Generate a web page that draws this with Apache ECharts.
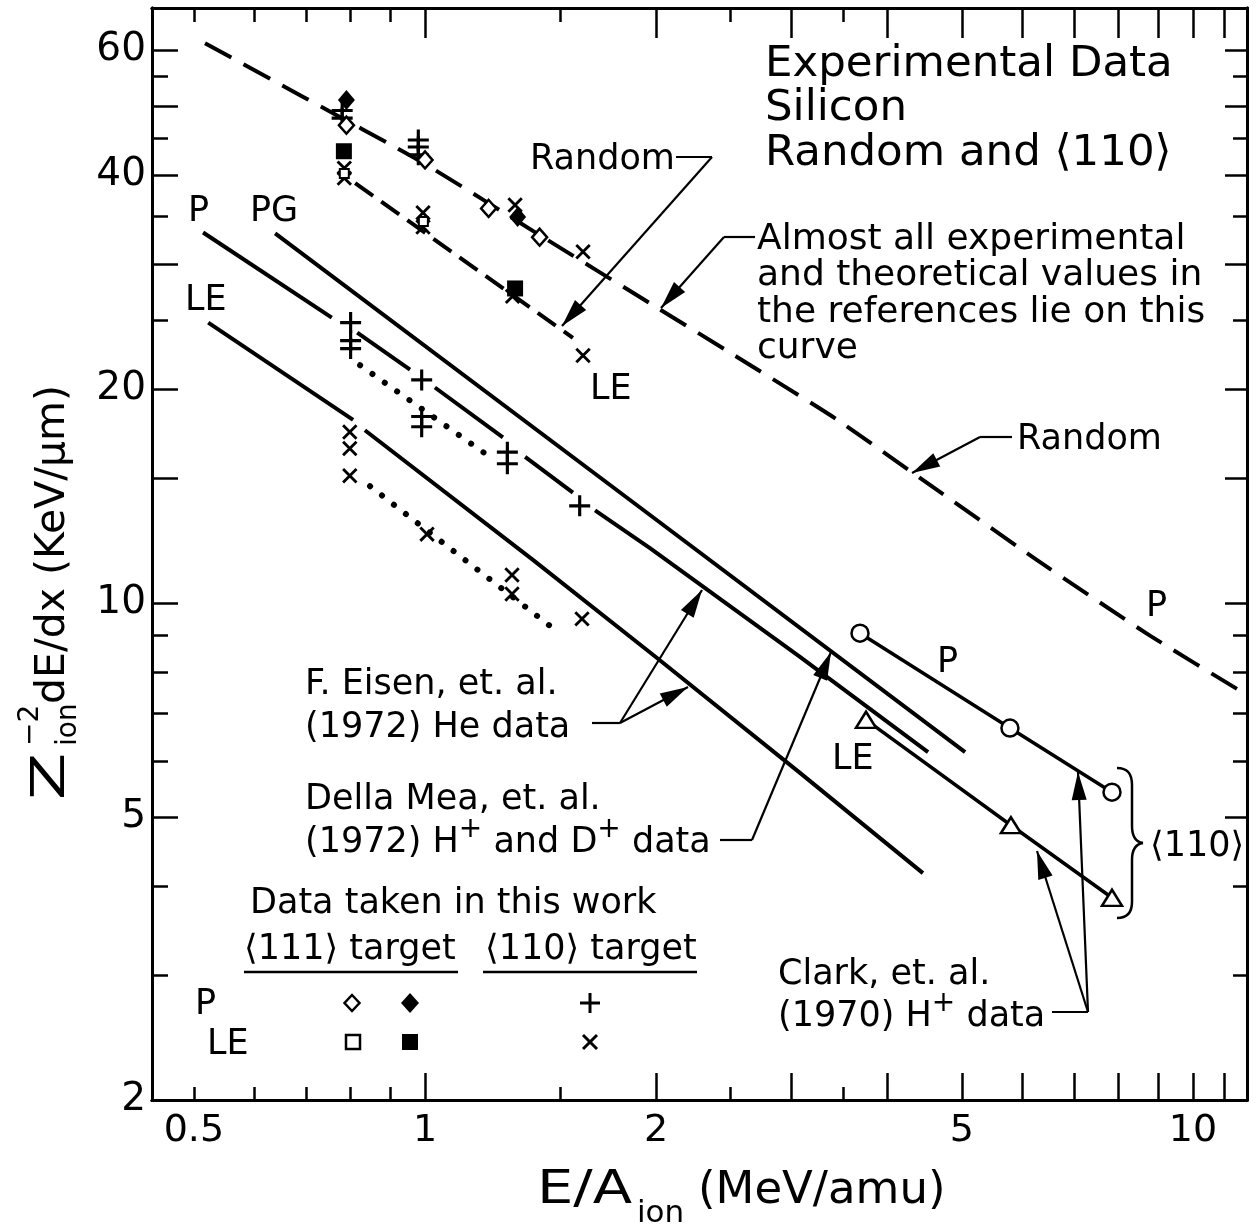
<!DOCTYPE html>
<html>
<head>
<meta charset="utf-8">
<title>Experimental Data Silicon Random and 110</title>
<script src="https://cdn.jsdelivr.net/npm/echarts@6/dist/echarts.min.js"></script>
<style>
html,body{margin:0;padding:0;background:#fff;}
#chart{width:1258px;height:1227px;}
</style>
</head>
<body>
<div id="chart"></div>
<script>
// ---------------- axis ticks / labels ----------------
const xLabelValues = [0.5, 1, 2, 5, 10];
const xMajorTickValues = [1, 2, 3, 4, 5, 6, 7, 8, 9, 10, 11];
const xMinorTickValues = [0.5, 0.6, 0.7, 0.8, 0.9, 1.5, 2.5, 3.5];
const yLabelValues = [2, 5, 10, 20, 40, 60];
const yMajorTickValues = [2, 5, 10, 15, 20, 30, 40, 50, 60];
const yMinorTickValues = [3, 4, 6, 7, 8, 9, 25, 35, 45, 55];

// ---------------- curves: E/A (MeV/amu) and Z^-2 dE/dx (keV/um) ----------------
const randomP_E = [0.517, 0.694, 0.994, 1.412, 1.963, 2.564, 3.43, 4.41, 6.26, 8.79, 11.7];
const randomP_S = [61.3, 51.5, 41.6, 32.9, 26.4, 22.1, 18.15, 15.0, 11.5, 9.0, 7.45];
const randomLE_E = [0.811, 1.558];
const randomLE_S = [38.96, 23.6];

const eisenP_segments = [
  [[0.514, 33.2], [0.756, 25.2]],
  [[0.816, 24.0], [0.956, 21.3]],
  [[1.030, 20.1], [1.263, 17.1]],
  [[1.35, 16.05], [1.558, 14.3]],
  [[1.665, 13.5], [1.963, 11.95], [3.078, 8.40], [4.519, 6.17]]
];
const eisenPG_E = [0.638, 1.963, 5.05];
const eisenPG_S = [33.1, 13.3, 6.17];
const eisenLE_segments = [
  [[0.522, 24.8], [0.806, 18.1]],
  [[0.835, 17.5], [1.382, 11.5], [2.005, 8.37], [3.078, 5.77], [4.45, 4.17]]
];
const clarkP_E = [3.685, 5.777, 7.845];
const clarkP_S = [9.07, 6.67, 5.42];
const clarkLE_E = [3.752, 5.794, 7.845];
const clarkLE_S = [6.85, 4.87, 3.85];
const dotP_E = [0.823, 1.215];
const dotP_S = [21.6, 16.05];
const dotLE_E = [0.848, 1.49];
const dotLE_S = [14.6, 9.1];

// ---------------- data points (this work) ----------------
const openDiamond_E = [0.79, 1.0, 1.21, 1.41];
const openDiamond_S = [47.0, 42.0, 35.9, 32.7];
const filledDiamond_E = [0.79, 1.32];
const filledDiamond_S = [51.0, 34.9];
const filledSquare_E = [0.784, 1.31];
const filledSquare_S = [43.2, 27.7];
const openSquare_E = [0.785, 0.995];
const openSquare_S = [40.2, 34.4];
const plus_E = [0.78, 0.78, 0.98, 0.98, 0.98, 0.80, 0.80, 0.80, 0.99, 0.99, 0.99, 1.28, 1.28, 1.59];
const plus_S = [49.3, 48.1, 44.8, 43.8, 42.7, 24.8, 23.4, 22.8, 20.6, 18.3, 17.7, 16.3, 15.7, 13.7];
const cross_E = [0.785, 0.785, 0.994, 0.994, 1.31, 1.30, 1.606, 1.606, 0.798, 0.798, 0.798, 1.006, 1.298, 1.298, 1.601];
const cross_S = [40.9, 39.6, 35.4, 33.8, 36.3, 27.0, 31.2, 22.3, 17.4, 16.5, 15.1, 12.5, 10.95, 10.3, 9.5];

// ---------------- helpers ----------------
const FONT = 'DejaVu Sans';
const X_MIN = 0.441, X_MAX = 11.76, Y_MIN = 2, Y_MAX = 68.7;
const zip = (a, b) => a.map((v, i) => [v, b[i]]);
const mctx = document.createElement('canvas').getContext('2d');
function tw(t, s) { mctx.font = s + 'px "' + FONT + '"'; return mctx.measureText(t).width; }
function T(t, x, base, s, extra) {
  return Object.assign({
    type: 'text', x: x, y: base - 0.3 * s, silent: true, z: 50,
    style: { text: t, font: s + 'px "' + FONT + '"', fill: '#000', align: 'left', verticalAlign: 'middle', textAlign: 'left', textVerticalAlign: 'middle' }
  }, extra || {});
}
function seq(x, base, parts) {
  const out = []; let cx = x;
  parts.forEach(p => { out.push(T(p[0], cx + (p[3] || 0), base + (p[2] || 0), p[1])); cx += tw(p[0], p[1]) + (p[3] || 0); });
  return out;
}
function L(pts, w) { return { type: 'polyline', silent: true, z: 50, shape: { points: pts }, style: { stroke: '#000', lineWidth: w || 2, fill: null } }; }
function B(x1, y1, c1x, c1y, c2x, c2y, x2, y2, w) {
  return { type: 'bezierCurve', silent: true, z: 50, shape: { x1: x1, y1: y1, cpx1: c1x, cpy1: c1y, cpx2: c2x, cpy2: c2y, x2: x2, y2: y2 }, style: { stroke: '#000', lineWidth: w || 2.5, fill: null } };
}
function arrowHead(x1, y1, x2, y2, len, w) {
  len = len || 28; w = w || 7.5;
  const dx = x2 - x1, dy = y2 - y1, d = Math.hypot(dx, dy), ux = dx / d, uy = dy / d;
  const bx = x2 - ux * len, by = y2 - uy * len;
  return { type: 'polygon', silent: true, z: 50, shape: { points: [[x2, y2], [bx - uy * w, by + ux * w], [bx + uy * w, by - ux * w]] }, style: { fill: '#000' } };
}
function arrowLine(x1, y1, x2, y2) { return [L([[x1, y1], [x2, y2]], 2.2), arrowHead(x1, y1, x2, y2)]; }

function mkX(position, ticks, len, labels) {
  return {
    type: 'log', logBase: 10, position: position, min: X_MIN, max: X_MAX, gridIndex: 0, silent: true,
    axisLine: { show: true, onZero: false, lineStyle: { color: '#000', width: 3 } },
    axisTick: { show: true, inside: true, length: len, customValues: ticks, lineStyle: { color: '#000', width: 2.5 } },
    axisLabel: labels ? { show: true, customValues: labels, margin: 12, color: '#000', fontFamily: FONT, fontSize: 38,
      formatter: v => String(Math.round(v * 10) / 10) } : { show: false },
    splitLine: { show: false }, minorTick: { show: false }, minorSplitLine: { show: false }
  };
}
function mkY(position, ticks, len, labels) {
  return {
    type: 'log', logBase: 10, position: position, min: Y_MIN, max: Y_MAX, gridIndex: 0, silent: true,
    axisLine: { show: true, onZero: false, lineStyle: { color: '#000', width: 3 } },
    axisTick: { show: true, inside: true, length: len, customValues: ticks, lineStyle: { color: '#000', width: 2.5 } },
    axisLabel: labels ? { show: true, customValues: labels, margin: 6, color: '#000', fontFamily: FONT, fontSize: 39,
      formatter: v => String(Math.round(v)) } : { show: false },
    splitLine: { show: false }, minorTick: { show: false }, minorSplitLine: { show: false }
  };
}

const BLACK_LINE = { color: '#000', width: 4 };
function lineSeries(data, lineStyle, extra) {
  return Object.assign({
    type: 'line', xAxisIndex: 0, yAxisIndex: 0, data: data, symbol: 'none', showSymbol: false, silent: true,
    lineStyle: Object.assign({}, BLACK_LINE, lineStyle || {}), z: 2, connectNulls: false
  }, extra || {});
}
function scat(data, symbol, size, itemStyle, extra) {
  return Object.assign({
    type: 'scatter', xAxisIndex: 0, yAxisIndex: 0, data: data, symbol: symbol, symbolSize: size, silent: true,
    itemStyle: Object.assign({ opacity: 1 }, itemStyle), z: 6
  }, extra || {});
}
const OPEN = { color: '#fff', borderColor: '#000', borderWidth: 2.5, opacity: 1 };
const FILLED = { color: '#000', opacity: 1 };
const PLUS_PATH = 'path://M8.5,0H11.5V20H8.5ZM0,8.5H20V11.5H0Z';

const series = [];
series.push(lineSeries(zip(randomP_E, randomP_S), { type: [30, 14], width: 4 }, { smooth: 0.2 }));
series.push(lineSeries(zip(randomLE_E, randomLE_S), { type: [22, 10], width: 4 }));
eisenP_segments.forEach(s => series.push(lineSeries(s)));
series.push(lineSeries(zip(eisenPG_E, eisenPG_S)));
eisenLE_segments.forEach(s => series.push(lineSeries(s)));
series.push(lineSeries(zip(dotP_E, dotP_S), { type: [0.1, 15], width: 6, cap: 'round' }));
series.push(lineSeries(zip(dotLE_E, dotLE_S), { type: [0.1, 15], width: 6, cap: 'round' }));
series.push(lineSeries(zip(clarkP_E, clarkP_S), { width: 3.5 }, { symbol: 'circle', symbolSize: 17, showSymbol: true, itemStyle: OPEN, z: 4 }));
series.push(lineSeries(zip(clarkLE_E, clarkLE_S), { width: 3.5 }, { symbol: 'triangle', symbolSize: [20, 16], showSymbol: true, itemStyle: OPEN, z: 4 }));
series.push(scat(zip(cross_E, cross_S), PLUS_PATH, 19, FILLED, { symbolRotate: 45 }));
series.push(scat(zip(plus_E, plus_S), PLUS_PATH, 21, FILLED));
series.push(scat(zip(openSquare_E, openSquare_S), 'rect', 9, { color: '#fff', borderColor: '#000', borderWidth: 2 }, { z: 7 }));
series.push(scat(zip(openDiamond_E, openDiamond_S), 'diamond', [15, 17], OPEN, { z: 7 }));
series.push(scat(zip(filledDiamond_E, filledDiamond_S), 'diamond', [17, 20], FILLED, { z: 7 }));
series.push(scat(zip(filledSquare_E, filledSquare_S), 'rect', 16, FILLED, { z: 7 }));

// ---------------- annotations (pixel space) ----------------
const g = [];
g.push(T('Experimental Data', 765, 78, 43.5));
g.push(T('Silicon', 765, 122, 43.5));
g.push(T('Random and \u27E8110\u27E9', 765, 167, 43.5));
['Almost all experimental', 'and theoretical values in', 'the references lie on this', 'curve']
  .forEach((t, i) => g.push(T(t, 757, 250 + i * 36.5, 36)));
g.push(T('Random', 530, 170, 35));
g.push(T('P', 188, 222, 35));
g.push(T('PG', 250, 222, 35));
g.push(T('LE', 185, 311, 35));
g.push(T('LE', 590, 400, 35));
g.push(T('Random', 1017, 450, 35));
g.push(T('P', 1146, 617, 35));
g.push(T('P', 937, 673, 35));
g.push(T('LE', 832, 770, 35));
g.push(T('\u27E8110\u27E9', 1150, 857, 35));
g.push(T('F. Eisen, et. al.', 305, 695, 35));
g.push(T('(1972) He data', 305, 738, 35));
g.push(T('Della Mea, et. al.', 305, 810, 35));
g.push(...seq(305, 853, [['(1972) H', 35], ['+', 28, -15], [' and D', 35], ['+', 28, -15], [' data', 35]]));
g.push(T('Clark, et. al.', 778, 985, 35));
g.push(...seq(778, 1027, [['(1970) H', 35], ['+', 28, -15], [' data', 35]]));
g.push(T('Data taken in this work', 250, 914, 35));
g.push(T('\u27E8111\u27E9 target', 244, 960, 35));
g.push(T('\u27E8110\u27E9 target', 485, 960, 35));
g.push(L([[244, 972], [458, 972]], 2.5));
g.push(L([[483, 972], [697, 972]], 2.5));
g.push(T('P', 195, 1015, 35));
g.push(T('LE', 207, 1055, 35));
// legend symbols
g.push({ type: 'polygon', z: 50, silent: true, shape: { points: [[352, 995], [359.5, 1003], [352, 1011], [344.5, 1003]] }, style: { fill: '#fff', stroke: '#000', lineWidth: 2.5 } });
g.push({ type: 'polygon', z: 50, silent: true, shape: { points: [[410, 993], [419, 1003], [410, 1013], [401, 1003]] }, style: { fill: '#000' } });
g.push(L([[580, 1003], [600, 1003]], 3)); g.push(L([[590, 993], [590, 1013]], 3));
g.push({ type: 'rect', z: 50, silent: true, shape: { x: 346, y: 1035, width: 14, height: 14 }, style: { fill: '#fff', stroke: '#000', lineWidth: 2.5 } });
g.push({ type: 'rect', z: 50, silent: true, shape: { x: 402, y: 1034, width: 16, height: 16 }, style: { fill: '#000' } });
g.push(L([[583, 1035], [597, 1049]], 3)); g.push(L([[597, 1035], [583, 1049]], 3));
// leaders + arrows
g.push(L([[676, 157], [712, 157]], 2.2)); g.push(...arrowLine(712, 157, 562, 326));
g.push(L([[755, 237], [724, 237]], 2.2)); g.push(...arrowLine(724, 237, 661, 308));
g.push(L([[1012, 437], [980, 437]], 2.2)); g.push(...arrowLine(980, 437, 912, 473));
g.push(L([[592, 723], [620, 723]], 2.2)); g.push(...arrowLine(620, 723, 702, 590)); g.push(...arrowLine(620, 723, 688, 687));
g.push(L([[720, 840], [752, 840]], 2.2)); g.push(...arrowLine(752, 840, 831, 652));
g.push(L([[1052, 1012], [1088, 1012]], 2.2)); g.push(...arrowLine(1088, 1012, 1078, 772)); g.push(...arrowLine(1088, 1012, 1037, 851));
// brace
g.push(B(1117, 768, 1128, 768, 1132, 774, 1132, 785));
g.push(L([[1132, 785], [1132, 826]], 2.5));
g.push(B(1132, 826, 1132, 836, 1136, 842, 1143, 843));
g.push(B(1143, 843, 1136, 844, 1132, 850, 1132, 860));
g.push(L([[1132, 860], [1132, 902]], 2.5));
g.push(B(1132, 902, 1132, 912, 1128, 918, 1117, 918));
// axis titles
g.push(T('E/A', 537, 1205, 46, { scaleX: 1.25 }));
g.push(T('ion', 637, 1223, 31));
g.push(T('(MeV/amu)', 698, 1205, 45));
g.push({
  type: 'group', x: 66, y: 800, rotation: Math.PI / 2, silent: true, z: 50,
  children: [T('Z', 0, 0, 46, { scaleX: 1.5 }), T('\u22122', 54, -27, 28), T('ion', 54, 11, 28), T('dE/dx (KeV/\u03BCm)', 96, 0, 41)]
});

const option = {
  animation: false,
  backgroundColor: '#fff',
  textStyle: { fontFamily: FONT, color: '#000' },
  grid: { left: 152, right: 11, top: 8, bottom: 127, containLabel: false, outerBoundsMode: 'none' },
  xAxis: [
    mkX('bottom', xMajorTickValues, 27, xLabelValues),
    mkX('bottom', xMinorTickValues, 13, null),
    mkX('top', xMajorTickValues, 30, null),
    mkX('top', xMinorTickValues, 14, null)
  ],
  yAxis: [
    mkY('left', yMajorTickValues, 26, yLabelValues),
    mkY('left', yMinorTickValues, 16, null),
    mkY('right', yMajorTickValues, 22, null),
    mkY('right', yMinorTickValues, 14, null)
  ],
  series: series,
  graphic: { elements: g }
};
const chart = echarts.init(document.getElementById('chart'), null, { renderer: 'canvas' });
chart.setOption(option);
</script>
</body>
</html>
